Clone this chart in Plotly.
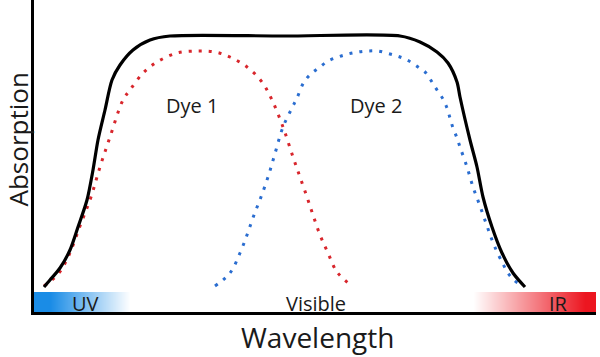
import plotly.graph_objects as go

# Combined absorption envelope (black)
total_x = [10, 16, 26, 36, 44, 53, 59, 64, 71, 78, 86, 99, 116, 136, 250, 366, 386, 403, 414, 423, 426,
           436, 443, 449, 458, 468, 479, 491]
total_y = [25, 32, 44, 62, 85, 112, 142, 172, 202, 232, 247, 262, 272, 276, 276, 276, 270, 260, 249, 230, 215,
           172, 145, 115, 85, 59, 39, 25]

# Dye 1 (red dotted)
dye1_x = [10, 25, 35, 46, 57, 66, 76, 89, 96, 109, 123, 143, 164, 181, 196, 213, 228, 238, 249, 259, 266,
          273, 279, 286, 294, 303, 318]
dye1_y = [26, 39, 57, 86, 115, 145, 175, 212, 222, 239, 250, 259, 261, 260, 255, 245, 230, 212, 185, 155, 135,
          115, 97, 77, 59, 40, 26]

# Dye 2 (blue dotted)
dye2_x = [181, 196, 206, 213, 220, 227, 234, 240, 249, 258, 263, 270, 278, 286, 294, 304, 314, 324, 334, 344,
          356, 366, 375, 384, 392, 398, 403, 409, 413, 416, 419, 423, 426, 433, 439, 446, 453, 460, 469, 474,
          480, 488]
dye2_y = [26, 39, 59, 77, 97, 115, 135, 155, 185, 204, 214, 230, 239, 245, 251, 255, 258, 260, 261, 261,
          258, 255, 251, 245, 239, 230, 222, 213, 204, 194, 184, 174, 165, 145, 125, 106, 86, 67, 48, 39,
          32, 26]

# Spectrum band: gradient stops (wavelength position, value on the UV(0)-IR(1) scale)
band_x = [0, 16, 96, 439, 551, 563]
band_z = [0, 0, 0.5, 0.5, 1, 1]

curve_labels = ["Dye 1", "Dye 2"]
band_labels = ["UV", "Visible", "IR"]
x_title = "Wavelength"
y_title = "Absorption"

FONT = "Open Sans, Noto Sans, sans-serif"
TXT = "#1a1a1a"

L, R, T, B = 34, 4, 0, 45
W, H = 600, 357
PW, PH = W - L - R, H - T - B


def px(xp, yp):
    """pixel position in the picture -> paper coordinates"""
    return (xp - L) / PW, (H - B - yp) / PH


fig = go.Figure()

fig.add_trace(go.Heatmap(
    x=band_x, y=[5, 15], z=[band_z, band_z],
    zsmooth="best", zmin=0, zmax=1, showscale=False, hoverinfo="skip",
    colorscale=[[0, "#1a8ce6"], [0.5, "#ffffff"], [1, "#ec1620"]],
))

fig.add_trace(go.Scatter(
    x=dye1_x, y=dye1_y, mode="lines",
    line=dict(color="#d8262c", width=3, dash="3px,7px", shape="spline", smoothing=1.0),
    hoverinfo="skip", showlegend=False,
))
fig.add_trace(go.Scatter(
    x=dye2_x, y=dye2_y, mode="lines",
    line=dict(color="#2a6dd0", width=3, dash="3px,7px", shape="spline", smoothing=1.0),
    hoverinfo="skip", showlegend=False,
))
fig.add_trace(go.Scatter(
    x=total_x, y=total_y, mode="lines",
    line=dict(color="#000000", width=3.2, shape="spline", smoothing=0.8),
    hoverinfo="skip", showlegend=False,
))

annos = [
    (192, 105, curve_labels[0], 20, 0),
    (376, 105, curve_labels[1], 20, 0),
    (85, 303, band_labels[0], 20, 0),
    (316, 303, band_labels[1], 20, 0),
    (558, 303, band_labels[2], 20, 0),
    (317, 337, x_title, 28, 0),
    (17.5, 140, y_title, 26, -90),
]
for xp, yp, txt, fs, ang in annos:
    ax_, ay_ = px(xp, yp)
    fig.add_annotation(xref="paper", yref="paper", x=ax_, y=ay_, text=txt, textangle=ang,
                       showarrow=False, xanchor="center", yanchor="middle", borderpad=0,
                       font=dict(size=fs, color=TXT, family=FONT))

fig.update_layout(
    width=W, height=H,
    margin=dict(l=L, r=R, t=T, b=B),
    paper_bgcolor="white", plot_bgcolor="white",
    showlegend=False,
    xaxis=dict(range=[0, PW], showgrid=False, zeroline=False, showticklabels=False, ticks="",
               showline=True, linecolor="black", linewidth=3),
    yaxis=dict(range=[0, PH], showgrid=False, zeroline=False, showticklabels=False, ticks="",
               showline=True, linecolor="black", linewidth=3),
)

fig.write_html("out.html", config={"displayModeBar": False},
               post_script="document.body.style.margin='0';document.body.style.padding='0';")
